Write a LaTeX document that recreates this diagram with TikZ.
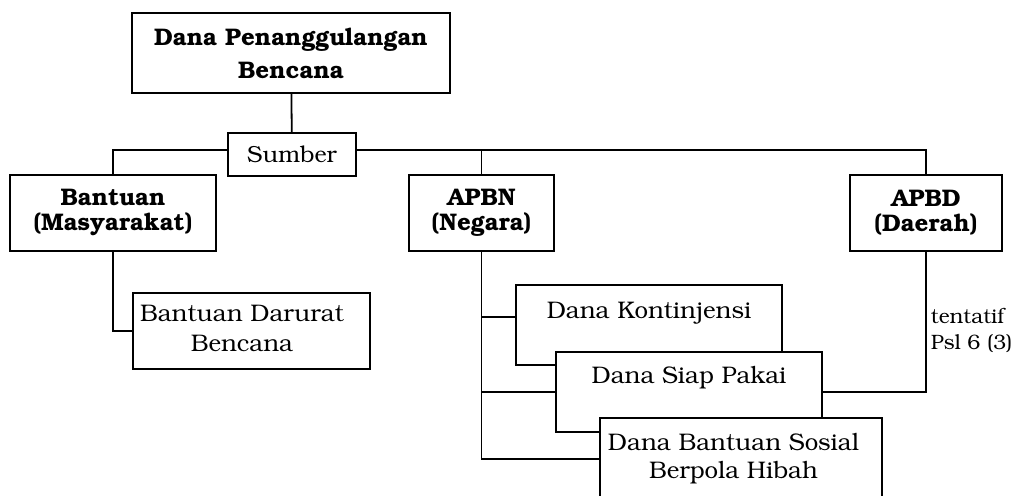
\documentclass[tikz,border=0pt]{standalone}
\usepackage[T1]{fontenc}
\usepackage{bookman}
\begin{document}
\begin{tikzpicture}[x=0.5pt, y=-0.5pt, line width=0.9pt,
  box/.style={draw, fill=white, rectangle, align=center, inner sep=0pt, font=\fontsize{12}{15}\selectfont},
  head/.style={box, font=\fontsize{12}{16.5}\selectfont\bfseries},
  sub/.style={box, font=\fontsize{12}{12.5}\selectfont\bfseries, minimum height=38pt}]
\clip (0,0) rectangle (1017,496);

\node (dana) [head, minimum width=159pt, minimum height=40pt] at (291,53) {Dana Penanggulangan\\Bencana};
\node (sumber) [box, font=\fontsize{11.6}{13}\selectfont, minimum width=64pt, minimum height=21.5pt] at (292,154.5) {Sumber};
\coordinate (bus) at (292,150);

\node (bantuan) [sub, minimum width=103pt] at (113,213) {Bantuan\\(Masyarakat)};
\node (apbn) [sub, minimum width=72.5pt] at (481.5,213) {APBN\\(Negara)};
\node (apbd) [sub, minimum width=76pt] at (926,213) {APBD\\(Daerah)};

\node (darurat) [box, minimum width=118.5pt, minimum height=38pt] at (251.5,331) {\begin{tabular}{@{}c@{}}Bantuan Darurat\\Bencana\end{tabular}\hspace*{9.5pt}};

\node (kontinjensi) [box, minimum width=133pt, minimum height=40pt, text depth=15pt] at (649,325) {Dana Kontinjensi};
\node (siap) [box, minimum width=133pt, minimum height=40pt, text depth=17pt] at (689,392) {Dana Siap Pakai};
\node (sosial) [box, minimum width=141pt, minimum height=41pt] at (741,459) {\begin{tabular}{@{}c@{}}Dana Bantuan Sosial\\[-1pt]Berpola Hibah\end{tabular}\hspace*{7.5pt}};
\coordinate (kin) at ([yshift=4pt]kontinjensi.west);

\node (tentatif) [anchor=west, align=left, inner sep=0pt, font=\fontsize{10.4}{13}\selectfont] at (930,330) {tentatif\\Psl 6 (3)};

\draw (dana) -- (sumber);
\draw (sumber.west |- bus) -| (bantuan.north);
\draw (sumber.east |- bus) -| (apbd.north);
\draw (apbn.north |- bus) -- (apbn.north);

\draw (bantuan.south) |- (darurat.west);

\draw (apbn.south) |- (sosial.west);
\draw (apbn.south |- kin) -- (kin);
\draw (apbn.south |- siap.west) -- (siap.west);
\draw (apbd.south) |- (siap.east);
\end{tikzpicture}
\end{document}
